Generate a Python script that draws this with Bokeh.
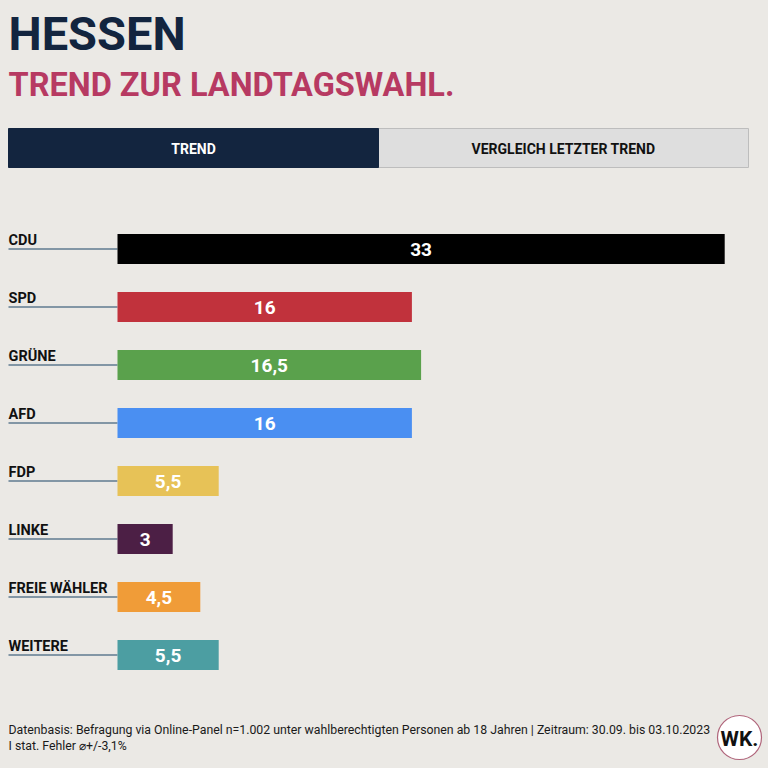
from bokeh.plotting import figure
from bokeh.models import Range1d, ColumnDataSource
from bokeh.core.properties import value
from bokeh.embed import file_html
from bokeh.resources import INLINE

# ---------------- data ----------------
parties = ["CDU", "SPD", "GRÜNE", "AFD", "FDP", "LINKE", "FREIE WÄHLER", "WEITERE"]
values = [33, 16, 16.5, 16, 5.5, 3, 4.5, 5.5]
colors = ["#000000", "#c1323c", "#5aa14c", "#4a8ff2", "#e7c257", "#4c1f45", "#f09c38", "#4c9ea2"]
tabs = ["TREND", "VERGLEICH LETZTER TREND"]
title = "HESSEN"
subtitle = "TREND ZUR LANDTAGSWAHL."
footer1 = "Datenbasis: Befragung via Online-Panel n=1.002 unter wahlberechtigten Personen ab 18 Jahren | Zeitraum: 30.09. bis 03.10.2023"
footer2 = "I stat. Fehler \u2300+/-3,1%"

# ---------------- layout ----------------
W, H = 768, 768
BG = "#ebe9e5"
PX_PER_UNIT = 18.4
BAR_LEFT_PX = 117
ROW_PX = 58
FIRST_ROW_PX = 248.5
LEFT_PX = 8
LABEL_LIFT_PX = 8.5

x0 = -BAR_LEFT_PX / PX_PER_UNIT
x1 = x0 + W / PX_PER_UNIT
y_top = -FIRST_ROW_PX / ROW_PX
y_bot = y_top + H / ROW_PX


def dx(px):
    return x0 + px / PX_PER_UNIT


def dy(py):
    return y_top + py / ROW_PX


FONT = value("Roboto")

p = figure(width=W, height=H, output_backend="svg", toolbar_location=None,
           x_range=Range1d(x0, x1), y_range=Range1d(y_bot, y_top),
           min_border=0, min_border_left=0, min_border_right=0,
           min_border_top=0, min_border_bottom=0)
p.axis.visible = False
p.grid.visible = False
p.outline_line_color = None
p.background_fill_color = BG
p.border_fill_color = BG

# ---------------- titles ----------------
p.text(x=[dx(LEFT_PX)], y=[dy(33)], text=[title], text_font=FONT, text_font_style="bold",
       text_font_size="47px", text_color="#13253f", text_baseline="middle", text_align="left")
p.text(x=[dx(LEFT_PX)], y=[dy(84.5)], text=[subtitle], text_font=FONT, text_font_style="bold",
       text_font_size="32.5px", text_color="#b73a62", text_baseline="middle", text_align="left")

# ---------------- tabs ----------------
p.quad(left=[dx(378)], right=[dx(748)], top=[dy(128)], bottom=[dy(167)],
       fill_color="#dedede", line_color="#bdbdbd", line_width=1)
p.quad(left=[dx(8)], right=[dx(378)], top=[dy(128)], bottom=[dy(167)],
       fill_color="#13253f", line_color="#13253f", line_width=1)
p.text(x=[dx(193), dx(563)], y=[dy(148), dy(148)], text=tabs, text_font=FONT,
       text_font_style="bold", text_font_size="14px", text_color=["#ffffff", "#111111"],
       text_align="center", text_baseline="middle")

# ---------------- bars ----------------
idx = list(range(len(parties)))


def fmt(v):
    return (str(int(v)) if float(v).is_integer() else str(v)).replace(".", ",")


src = ColumnDataSource(dict(
    y=idx, ylab=[i - LABEL_LIFT_PX / ROW_PX for i in idx],
    party=parties, val=values, color=colors,
    mid=[v / 2 for v in values], lab=[fmt(v) for v in values],
    xs=[dx(LEFT_PX)] * len(parties), zero=[0] * len(parties),
))

p.segment(x0="xs", y0="y", x1="zero", y1="y", source=src, line_color="#5f7a8f", line_width=1.5)
p.hbar(y="y", left=0, right="val", height=30 / ROW_PX, fill_color="color", line_color=None, source=src)
p.text(x="xs", y="ylab", text="party", source=src, text_font=FONT, text_font_style="bold",
       text_font_size="14.5px", text_color="#111111", text_baseline="middle",
       text_align="left")
p.text(x="mid", y="y", text="lab", source=src, text_font=FONT, text_font_style="bold",
       text_font_size="19px", text_color="#ffffff", text_baseline="middle", text_align="center")

# ---------------- footer ----------------
p.text(x=[dx(LEFT_PX), dx(LEFT_PX)], y=[dy(729), dy(745)], text=[footer1, footer2], text_font=FONT,
       text_font_size="12.3px", text_color="#1a1a1a", text_baseline="middle", text_align="left")

# logo
p.scatter(x=[dx(739)], y=[dy(737)], marker="circle", size=44, fill_color="#ffffff",
          line_color="#b0657b", line_width=1.2)
p.text(x=[dx(739)], y=[dy(738)], text=["WK."], text_font=FONT, text_font_style="bold",
       text_font_size="21px", text_color="#111111", text_align="center", text_baseline="middle")

html = file_html(p, INLINE).replace("<body>", '<body style="background-color:%s;">' % BG)
open("out.html", "w").write(html)
